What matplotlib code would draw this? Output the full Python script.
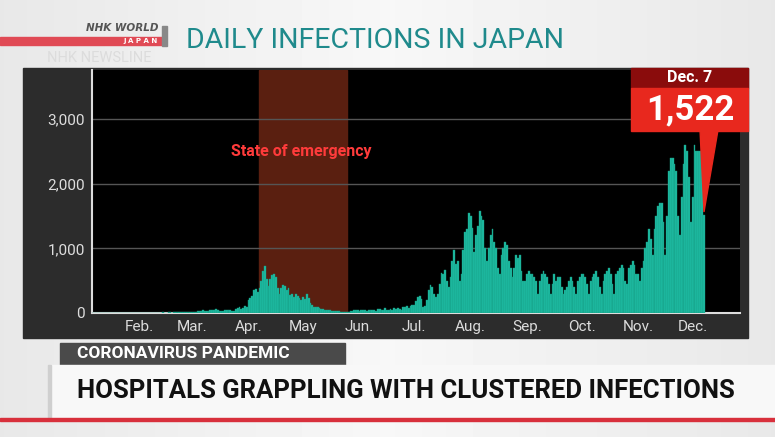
import numpy as np
import pandas as pd
import matplotlib
matplotlib.use("Agg")
import matplotlib.pyplot as plt
from matplotlib.patches import Rectangle, Polygon

start_date = "2020-01-06"
jan = [0,0,0,0,0,0,0,0,0,1,0,0,0,1,0,1,2,0,1,1,2,1,1,3,2,1]
feb = [2,3,1,0,1,5,3,1,2,1,1,2,0,8,5,6,8,11,5,8,10,14,12,20,12,18,22,16,20]
mar = [14,15,18,25,33,30,40,30,35,28,50,42,45,55,40,32,28,30,42,45,50,40,35,30,60,80,95,60,80,110,90]
apr = [200,230,260,350,370,330,380,500,650,720,520,420,520,580,600,560,380,300,380,430,420,350,380,280,300,250,290,270,230,200]
may = [240,210,290,230,150,120,100,90,100,80,60,60,50,40,50,40,30,30,30,30,25,20,20,15,20,20,30,30,40,50,40]
jun = [35,40,50,40,30,40,45,50,40,30,60,60,50,45,70,40,50,60,50,70,60,80,60,50,90,100,110,80,110,120]
jul = [130,180,250,270,210,100,110,200,350,430,400,300,250,300,450,620,600,670,500,400,560,800,980,760,800,500,600,980,1260,1300,1550]
aug = [1500,1320,950,1200,1350,1580,1500,1440,1000,800,1000,1200,1300,1100,1000,700,600,900,1000,1100,1050,800,700,550,700,900,850,900,650,500,500]
sep = [600,650,600,600,550,500,300,500,600,650,600,550,450,300,450,600,500,550,550,400,300,350,400,500,550,500,400,300,500,550]
oct_ = [600,600,550,450,300,500,550,600,650,550,400,300,500,600,650,700,600,450,300,600,650,700,750,700,500,450,700,750,800,750,600]
nov = [600,500,700,800,1000,1100,1300,1150,900,1300,1500,1650,1700,1700,1400,900,1500,2200,2400,2400,2300,2200,1500,1200,1800,2300,2600,2500,2100,1400]
dec = [1800,2600,2500,2500,2500,2500,1522]
month_labels = ["Feb.","Mar.","Apr.","May","Jun.","Jul.","Aug.","Sep.","Oct.","Nov.","Dec."]
yticks = [0,1000,2000,3000]
emergency = ("2020-04-07","2020-05-25")
callout_date = "Dec. 7"
callout_value = "1,522"

values = jan+feb+mar+apr+may+jun+jul+aug+sep+oct_+nov+dec
dates = pd.date_range(start_date, periods=len(values), freq="D")

W, H = 775, 437
fig = plt.figure(figsize=(W/100, H/100), dpi=100)

def px(x0, y0, x1, y1):
    return [x0/W, 1-y1/H, (x1-x0)/W, (y1-y0)/H]

bg = fig.add_axes([0,0,1,1]); bg.set_axis_off()
grad = np.linspace(0,1,200)
img = 0.97 - 0.12*np.abs(grad-0.5)[None,:]*np.ones((50,1))
bg.imshow(img, cmap="gray", vmin=0, vmax=1, aspect="auto", extent=[0,W,H,0])
bg.set_xlim(0,W); bg.set_ylim(H,0)
bg.add_patch(Rectangle((0,37),165,8,color="#e04a55"))
bg.text(158,33,"NHK WORLD",ha="right",va="bottom",fontsize=7.5,fontweight="bold",color="#555",style="italic")
bg.text(158,41,"J A P A N",ha="right",va="center",fontsize=5,color="white",fontweight="bold")
bg.add_patch(Rectangle((162,26),5,20,color="#888"))
bg.text(47,58,"NHK NEWSLINE",ha="left",va="center",fontsize=10.5,color="#dcdcdc",family="Roboto")
bg.text(186,41,"DAILY INFECTIONS IN JAPAN",ha="left",va="center",fontsize=20.5,color="#1f8a8c",family="Roboto")
bg.add_patch(Rectangle((23,68),725,270,color="#2c2c2c"))
bg.add_patch(Rectangle((60,343),285,22,color="#4a4a4a"))
bg.text(77,354,"CORONAVIRUS PANDEMIC",ha="left",va="center",fontsize=12.5,color="white",fontweight="bold",family="Roboto")
bg.add_patch(Rectangle((50,365),725,53,color="#f8f8f8"))
bg.add_patch(Rectangle((48,365),3,53,color="#cfcfcf"))
bg.text(77,391,"HOSPITALS GRAPPLING WITH CLUSTERED INFECTIONS",ha="left",va="center",fontsize=18.5,color="#111",fontweight="bold",family="Roboto")
bg.add_patch(Rectangle((0,418),W,2.5,color="#d8303c"))

ax = fig.add_axes(px(92,70,740,313))
ax.set_facecolor("black")
ax.bar(dates, values, width=1.0, color="#1fbfa5", edgecolor="#15977f", linewidth=0.3, zorder=3)
ax.axvspan(pd.Timestamp(emergency[0]), pd.Timestamp(emergency[1]), color="#5a1f10", zorder=1)
ax.text(pd.Timestamp("2020-04-30"), 2500, "State of emergency", color="#ff3b3b", fontsize=11.5,
        ha="center", va="center", fontweight="bold", family="Roboto", zorder=4)
ax.set_xlim(pd.Timestamp("2020-01-06"), pd.Timestamp("2020-12-27"))
ax.set_ylim(0, 3758)
ax.set_yticks(yticks)
ax.set_yticklabels([f"{v:,}" for v in yticks], color="#dddddd", fontsize=11, family="Roboto")
for v in yticks[1:]:
    ax.axhline(v, color="#555", linewidth=1, zorder=2)
mt = pd.date_range("2020-02-01", periods=len(month_labels), freq="MS")
ax.set_xticks(mt)
ax.set_xticklabels(month_labels, color="#dddddd", fontsize=11, family="Roboto")
ax.tick_params(length=0, pad=5)
for s in ["top","right"]:
    ax.spines[s].set_visible(False)
ax.spines["bottom"].set_color("#dddddd"); ax.spines["bottom"].set_linewidth(1.5)
ax.spines["left"].set_color("#dddddd"); ax.spines["left"].set_linewidth(1.5)

ov = fig.add_axes([0,0,1,1]); ov.set_axis_off()
ov.set_xlim(0,W); ov.set_ylim(H,0); ov.patch.set_alpha(0)
ov.add_patch(Rectangle((631,68),117,20,color="#8a0c0c"))
ov.text(690,78,callout_date,ha="center",va="center",fontsize=11.5,color="white",fontweight="bold",family="Roboto")
ov.add_patch(Rectangle((631,88),117,43,color="#e8281e"))
ov.add_patch(Polygon([(700,130),(718,130),(704,212)],closed=True,color="#e8281e"))
ov.text(690,110,callout_value,ha="center",va="center",fontsize=25,color="white",fontweight="bold",family="Roboto")

fig.savefig("out.png", dpi=100)
